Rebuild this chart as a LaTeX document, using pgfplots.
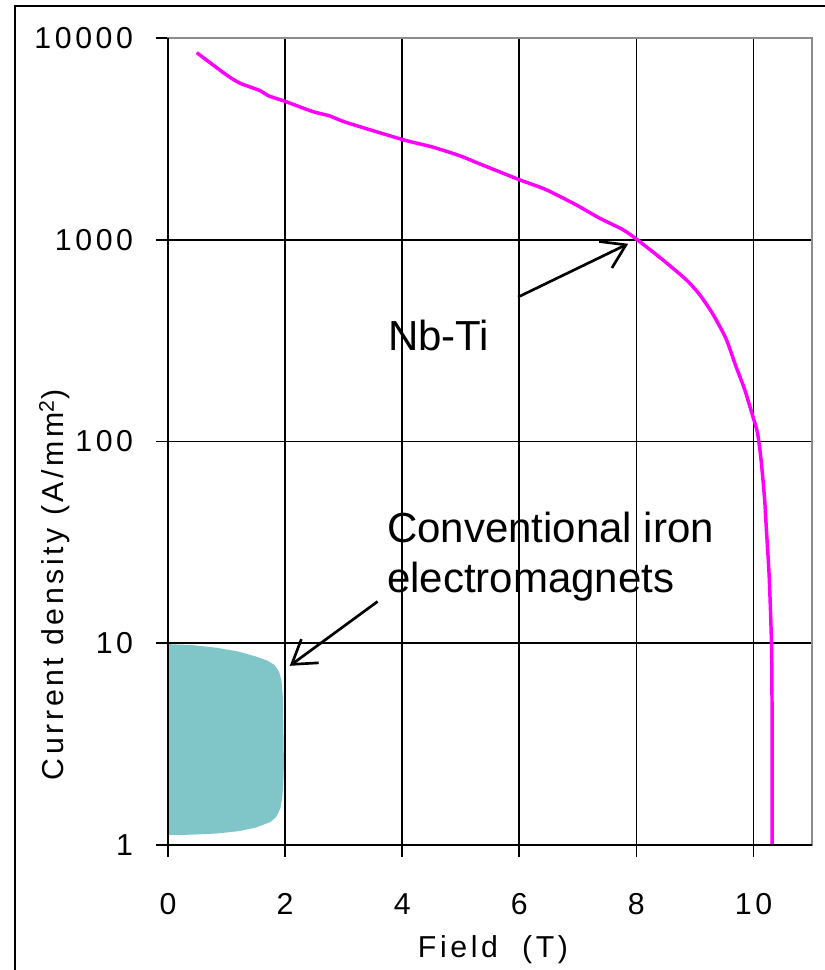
\documentclass[border=0pt]{standalone}
\usepackage{fontspec}
\setmainfont{Liberation Sans}
\newfontfamily\spaced[LetterSpace=12]{Liberation Sans}
\usepackage{pgfplots}
\pgfplotsset{compat=1.18}
\usetikzlibrary{arrows.meta}
\definecolor{teal1}{RGB}{128,198,200}
\definecolor{mag}{RGB}{255,0,255}
\definecolor{bordergray}{RGB}{140,140,140}
\begin{document}
\begin{tikzpicture}
\path[use as bounding box] (-126pt,-93.75pt) rectangle (492pt,633.75pt);
\draw[line width=1.6pt] (-114.75pt,-120pt) -- (-114.75pt,629.25pt) -- (520pt,629.25pt);
\begin{axis}[at={(0,0)}, anchor=south west, scale only axis,
  width=483pt, height=605.25pt,
  xmin=0, xmax=11, ymin=1, ymax=10000, ymode=log,
  xtick={0,2,4,6,8,10}, xticklabels={0,2,4,6,8,10},
  ytick={1,10,100,1000,10000}, yticklabels={1,10,100,1000,10000},
  yminorticks=false, yminorgrids=false,
  grid=major, grid style={black, line width=1.2pt},
  tick align=outside, major tick length=9pt, tick style={black, line width=1.2pt},
  xtick pos=bottom, ytick pos=left,
  axis line style={draw=bordergray, line width=1.5pt},
  ticklabel style={font=\spaced\fontsize{22.7}{27}\selectfont, inner sep=0pt},
  xticklabel style={anchor=north, yshift=-27pt},
  yticklabel style={anchor=east, xshift=-17pt},
  /pgf/number format/assume math mode=true,
]
\addplot[fill=teal1, draw=none, mark=none] coordinates {
(0,9.9) (0.4,9.8) (0.83,9.5) (1.2,9.1) (1.5,8.6) (1.7,8.2) (1.82,7.8) (1.9,7.2)
(1.94,6.5) (1.96,5.5) (1.97,4) (1.98,2.5) (1.97,2.0) (1.95,1.7) (1.92,1.52)
(1.85,1.38) (1.75,1.30) (1.5,1.22) (1.2,1.17) (0.83,1.14) (0.4,1.125) (0,1.12)
} -- cycle;
\addplot[mag, line width=2.6pt, mark=none, smooth, tension=0.4] coordinates {
(0.49,8460) (1.00,6560) (1.23,5970) (1.57,5490) (1.71,5180) (2.01,4840)
(2.47,4320) (2.76,4110) (3.05,3810) (4.02,3130) (4.52,2880) (4.98,2610)
(5.32,2380) (6.01,1980) (6.46,1770) (6.97,1490) (7.37,1280) (7.77,1122)
(8.00,1008) (8.45,796) (8.85,634) (9.08,535) (9.30,431) (9.53,324) (9.70,236)
(9.85,181) (9.99,133) (10.07,110) (10.13,81) (10.19,52) (10.22,37) (10.27,21)
(10.31,9.3) (10.32,3.0) (10.32,1.0)
};
\draw[line width=2pt, -{Straight Barb[length=17pt,width=22pt]}] (axis cs:5.98,520) -- (axis cs:7.86,955);
\draw[line width=2pt, -{Straight Barb[length=17pt,width=22pt]}] (axis cs:3.58,16.1) -- (axis cs:2.08,7.73);
\node[anchor=base west, inner sep=0pt, font=\fontsize{31.5}{37.5}\selectfont] at (axis cs:3.754,281.8) {Nb-Ti};
\node[anchor=base west, inner sep=0pt, font=\fontsize{31.5}{37.5}\selectfont] at (axis cs:3.737,31.6) {Conventional iron};
\node[anchor=base west, inner sep=0pt, font=\fontsize{31.5}{37.5}\selectfont] at (axis cs:3.737,17.9) {electromagnets};
\end{axis}
\draw[black, line width=1.5pt] (0,605.25pt) -- (0,0) -- (483pt,0);
\node[anchor=base, inner sep=0pt, font=\spaced\fontsize{22.7}{27}\selectfont] at (243.75pt,-84.5pt) {Field\ \ (T)};
\node[anchor=base, rotate=90, inner sep=0pt, font=\spaced\fontsize{22.7}{27}\selectfont] at (-78pt,195pt) {Current density (A/mm\textsuperscript{2})};
\end{tikzpicture}
\end{document}
